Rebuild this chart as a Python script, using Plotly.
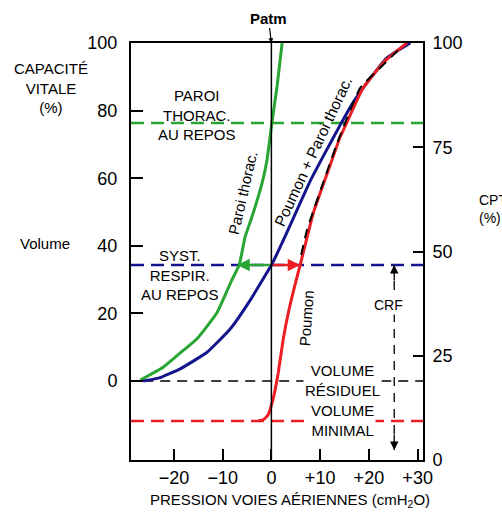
import plotly.graph_objects as go

# ---------------- data ----------------
# pressure (cmH2O) / volume (% vital capacity)
green_p = [-26.9, -22.2, -18.7, -15.2, -11.2, -8.1, -6.6, -5.4, -4.0, -1.9, -0.9, 0.1, 1.2, 2.2]
green_cv = [0.3, 4.1, 8.3, 12.6, 20.1, 29.9, 34.3, 42.6, 48.5, 58.6, 65.4, 76.3, 87.6, 100]

blue_p = [-26.3, -22.8, -18.7, -13.2, -8.5, -4.4, 0.0, 1.6, 4.6, 7.9, 11.2, 14.1, 16.8, 19.6, 23.7, 28.5]
blue_cv = [0, 1.0, 3.6, 8.5, 15.3, 23.8, 34.3, 39.0, 48.5, 59.0, 68.0, 75.7, 82.5, 88.2, 95.6, 100]

red_p = [-2.7, -1.7, -0.7, 0.3, 1.4, 2.4, 3.6, 5.1, 5.9, 8.6, 11.7, 14.1, 14.7, 18.8, 23.3, 27.8]
red_cv = [-11.8, -11.5, -10.1, -5.6, 2.4, 12.1, 21.0, 29.9, 34.3, 49.7, 62.4, 72.2, 74.0, 86.7, 94.7, 100]

black_p = [6.1, 7.3, 10.6, 13.5, 18.2, 22.9, 25.8, 26.8]
black_cv = [37.3, 44.7, 58.6, 70.4, 86.7, 93.5, 97.6, 99.4]

cv_paroi_repos = 76.3
cv_syst_repos = 34.3
cv_residuel = 0.0
cv_minimal = -11.8
p_residuel_start = -26.3
arrow_green_tip = -7.0
arrow_red_tip = 5.9
p_crf = 25.2
cv_crf_bottom = -20.4

x_range = [-28.8, 31.1]
y_range = [-23.37, 100]
y2_range = [0, 100]

x_ticks = [-20, -10, 0, 10, 20, 30]
x_ticklabels = ["\u221220", "\u221210", "0", "+10", "+20", "+30"]
y_ticks = [0, 20, 40, 60, 80, 100]
y2_ticks = [0, 25, 50, 75, 100]

GREEN = "rgb(40,165,50)"
BLUE = "rgb(20,20,140)"
RED = "rgb(235,30,35)"
BLACK = "black"
FONT = "Arial, Liberation Sans, sans-serif"

fig = go.Figure()

def hline(y, color, width, dash, x0=None):
    fig.add_trace(go.Scatter(x=[x0 if x0 is not None else x_range[0], x_range[1]], y=[y, y],
                             mode="lines", line=dict(color=color, width=width, dash=dash),
                             hoverinfo="skip", showlegend=False))

hline(cv_paroi_repos, GREEN, 2.5, "13px,7px")
hline(cv_syst_repos, BLUE, 2.5, "13px,7px")
hline(cv_residuel, BLACK, 1.3, "10px,7px", x0=p_residuel_start)
hline(cv_minimal, RED, 2.5, "13px,7px")

# CRF vertical dashed
fig.add_trace(go.Scatter(x=[p_crf, p_crf], y=[cv_syst_repos, cv_crf_bottom], mode="lines",
                         line=dict(color=BLACK, width=1.3, dash="9px,7px"),
                         hoverinfo="skip", showlegend=False))

for px, py, col in [(green_p, green_cv, GREEN), (blue_p, blue_cv, BLUE), (red_p, red_cv, RED)]:
    fig.add_trace(go.Scatter(x=px, y=py, mode="lines",
                             line=dict(color=col, width=3, shape="spline", smoothing=0.4),
                             hoverinfo="skip", showlegend=False))
fig.add_trace(go.Scatter(x=black_p, y=black_cv, mode="lines",
                         line=dict(color=BLACK, width=2, dash="10px,7px", shape="spline", smoothing=0.4),
                         hoverinfo="skip", showlegend=False))

# dummy trace for right axis
fig.add_trace(go.Scatter(x=[None], y=[None], yaxis="y2", showlegend=False))

# Patm vertical line
fig.add_shape(type="line", xref="x", yref="paper", x0=0, x1=0, y0=0, y1=1,
              line=dict(color=BLACK, width=1.5))

ann = []
def txt(x, y, s, size=15, xref="x", yref="y", angle=0, bg=None, **kw):
    d = dict(x=x, y=y, xref=xref, yref=yref, text=s, showarrow=False, textangle=angle,
             font=dict(family=FONT, size=size, color=BLACK), xanchor="center", yanchor="middle")
    if bg:
        d["bgcolor"] = bg
    d.update(kw)
    ann.append(d)

txt(-15.2, 78.7, "PAROI<br>THORAC.<br>AU REPOS")
txt(-18.7, 31.4, "SYST.<br>RESPIR.<br>AU REPOS")
txt(-6.0, 55.6, "Paroi thorac.", angle=-77)
txt(8.6, 67.8, "Poumon + Paroi thorac.", size=15.5, angle=-65)
txt(7.1, 18.6, "Poumon", angle=-86)
txt(p_crf - 1.1, 22.5, "CRF", size=14, bg="white")
txt(14.5, 0.1, "VOLUME<br>RÉSIDUEL", bg="white")
txt(14.5, -11.8, "VOLUME<br>MINIMAL", bg="white")

# outside labels (paper coords)
txt(-0.274, 0.892, "CAPACITÉ<br>VITALE<br>(%)", xref="paper", yref="paper")
txt(-0.295, 0.520, "Volume", xref="paper", yref="paper")
txt(1.185, 0.602, "CPT<br>(%)", size=14, xref="paper", yref="paper", xanchor="left", align="left")
txt(0.545, -0.096, "PRESSION VOIES AÉRIENNES (cmH<sub>2</sub>O)", size=15, xref="paper", yref="paper")

# Patm with arrow
ann.append(dict(x=0, y=1, xref="x", yref="paper", text="<b>Patm</b>", showarrow=True,
                ax=-3, ay=-25, arrowhead=2, arrowsize=0.8, arrowwidth=1.2, arrowcolor=BLACK,
                font=dict(family=FONT, size=15, color=BLACK)))

# resting arrows
for tip, col in [(arrow_green_tip, GREEN), (arrow_red_tip, RED)]:
    ann.append(dict(x=tip, y=cv_syst_repos, ax=0, ay=cv_syst_repos, xref="x", yref="y",
                    axref="x", ayref="y", text="", showarrow=True, arrowhead=2,
                    arrowsize=1, arrowwidth=2.5, arrowcolor=col))
# CRF arrow heads
ann.append(dict(x=p_crf, y=cv_syst_repos, ax=p_crf, ay=cv_syst_repos - 5, xref="x", yref="y",
                axref="x", ayref="y", text="", showarrow=True, arrowhead=2, arrowsize=1.3,
                arrowwidth=1.3, arrowcolor=BLACK))
ann.append(dict(x=p_crf, y=cv_crf_bottom, ax=p_crf, ay=cv_crf_bottom + 5, xref="x", yref="y",
                axref="x", ayref="y", text="", showarrow=True, arrowhead=2, arrowsize=1.3,
                arrowwidth=1.3, arrowcolor=BLACK))

tickfont = dict(family=FONT, size=18, color=BLACK)
fig.update_layout(
    width=502, height=513,
    margin=dict(l=131, r=79, t=43, b=53),
    paper_bgcolor="white", plot_bgcolor="white",
    showlegend=False,
    annotations=ann,
    xaxis=dict(range=x_range, tickvals=x_ticks, ticktext=x_ticklabels, ticks="inside",
               ticklen=11, tickwidth=1.5, tickcolor=BLACK, showline=True, linecolor=BLACK,
               linewidth=2, mirror=True, showgrid=False, zeroline=False, tickfont=tickfont,
               ticklabelstandoff=0),
    yaxis=dict(range=y_range, tickvals=y_ticks, ticks="inside", ticklen=12, tickwidth=1.5,
               tickcolor=BLACK, showline=True, linecolor=BLACK, linewidth=2, showgrid=False,
               zeroline=False, tickfont=tickfont, ticklabelstandoff=8),
    yaxis2=dict(range=y2_range, tickvals=y2_ticks, overlaying="y", side="right", ticks="inside",
                ticklen=10, tickwidth=1.5, tickcolor=BLACK, showline=True, linecolor=BLACK,
                linewidth=2, showgrid=False, zeroline=False, tickfont=tickfont,
                ticklabelstandoff=4),
)

fig.write_html("out.html", config={"displayModeBar": False},
               post_script="document.body.style.margin='0';document.body.style.overflow='hidden';")
